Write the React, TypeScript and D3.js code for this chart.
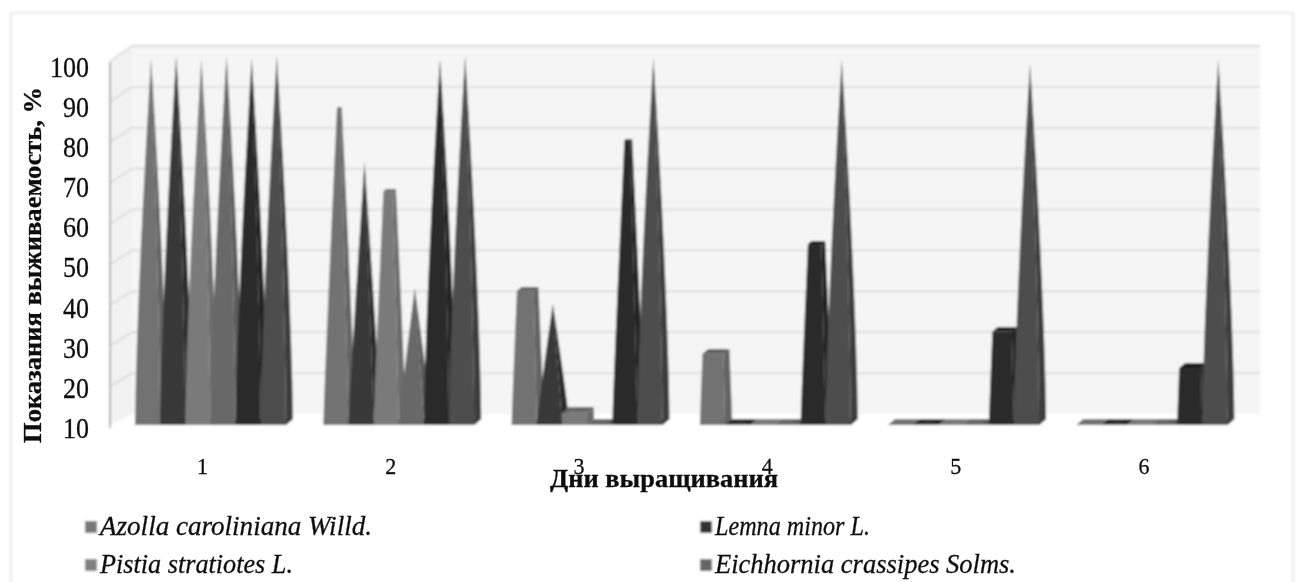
import React from "react";
import * as d3 from "d3";

const days = ["1", "2", "3", "4", "5", "6"];
const yTicks = [10, 20, 30, 40, 50, 60, 70, 80, 90, 100];

// six bars per day, the legend of the source only names four of them
const azolla = [100, 88, 43, 27.5, 10, 10];
const lemna = [100, 74, 39, 10.5, 10.5, 10.5];
const pistia = [100, 67.5, 13, 10, 10, 10];
const eichhornia = [100, 43, 10.5, 10.5, 10.5, 10.5];
const lemna2 = [100, 99.5, 80, 54.5, 33, 24];
const eichhornia2 = [100, 100, 99.5, 99, 98, 99];

const seriesValues = [azolla, lemna, pistia, eichhornia, lemna2, eichhornia2];
const seriesIds = ["s0", "s1", "s2", "s3", "s4", "s5"];
const legendNames = [
  "Azolla caroliniana Willd.",
  "Lemna minor L.",
  "Pistia stratiotes L.",
  "Eichhornia crassipes Solms.",
];
const legendWidths = [272, 155, 193, 301];

const FRONT = ["#727272", "#383838", "#7a7a7a", "#686868", "#2a2a2a", "#4e4e4e"];
const SIDE = ["#646464", "#2c2c2c", "#6c6c6c", "#5a5a5a", "#222222", "#3c3c3c"];
const TOP = ["#5f5f5f", "#2c2c2c", "#666666", "#585858", "#1e1e1e", "#3a3a3a"];
const LEGEND_COLORS = ["#777777", "#333333", "#808080", "#666666"];
// series that end in a point at their value; the others are cut flat
const POINTED = [false, true, false, true, false, true];

const SERIF = "'Liberation Serif', 'Times New Roman', serif";
const DEPTH_X = 7;
const DEPTH_Y = 6;

type Pt = [number, number];

export default function App() {
  const y = d3.scaleLinear().domain([10, 100]).range([425, 59]);
  const yBack = d3.scaleLinear().domain([10, 100]).range([414, 46]);
  const yLabel = d3.scaleLinear().domain([10, 100]).range([428, 67]);
  const x = d3.scaleBand().domain(days).range([135, 1227.4]).paddingInner(0.1985).paddingOuter(0);
  const xBar = d3.scaleBand().domain(seriesIds).range([0, x.bandwidth()]);
  const poly = d3.line();
  const path = (pts: Pt[]) => poly(pts) + "Z";

  const bars = days.flatMap((day, di) =>
    seriesIds.map((id, si) => {
      const value = seriesValues[si][di];
      const x0 = (x(day) || 0) + (xBar(id) || 0);
      const x1 = x0 + xBar.bandwidth();
      const base = y(10);
      const apexX = (x0 + x1 + DEPTH_X) / 2;
      const pointed = POINTED[si];
      const apexY = pointed ? y(value) - DEPTH_Y / 2 : y(100);
      const t = pointed ? 1 : (value - 10) / 90;
      // the sides of the tall spikes bulge a little in the source picture
      const power = value >= 95 ? 1.4 : 1.1;
      const steps = d3.range(0, 11).map((i) => (i / 10) * t);
      const edge = (px: number, py: number, s: number): Pt => [
        px + (apexX - px) * Math.pow(s, power),
        py + (apexY - py) * s,
      ];
      const side = (px: number, py: number) => steps.map((s) => edge(px, py, s));

      const leftFront = side(x0, base);
      const rightFront = side(x1, base);
      const rightBack = side(x1 + DEPTH_X, base - DEPTH_Y);
      const leftBack = side(x0 + DEPTH_X, base - DEPTH_Y);
      const last = steps.length - 1;
      const low = value < 12;
      return (
        <g key={`${day}-${id}`}>
          <path
            d={path([leftFront[0], rightFront[0], rightBack[0], leftBack[0]])}
            fill={low ? (si === 1 ? "#222222" : FRONT[si]) : SIDE[si]}
          />
          <path d={path([...rightFront, ...[...rightBack].reverse()])} fill={SIDE[si]} />
          {!pointed && (
            <path
              d={path([leftFront[last], rightFront[last], rightBack[last], leftBack[last]])}
              fill={low ? FRONT[si] : TOP[si]}
            />
          )}
          <path d={path([...leftFront, ...[...rightFront].reverse()])} fill={FRONT[si]} />
        </g>
      );
    }),
  );

  return (
    <svg
      width={1304}
      height={582}
      style={{ position: "fixed", left: 0, top: 0, background: "#ffffff" }}
      fontFamily={SERIF}
    >
      <defs>
        <filter id="soft" x="-2%" y="-2%" width="104%" height="104%">
          <feGaussianBlur stdDeviation="0.8" />
        </filter>
        <filter id="softText" x="-2%" y="-2%" width="104%" height="104%">
          <feGaussianBlur stdDeviation="0.7" />
        </filter>
      </defs>
      <g filter="url(#soft)">
        <rect x={11} y={13} width={1282} height={600} fill="#ffffff" stroke="#e4e4e4" strokeWidth={1.5} />

        {/* walls */}
        <path d={path([[110, y(100) + 2], [132, yBack(100)], [132, yBack(10)], [110, y(10)]])} fill="#f2f2f2" />
        <rect x={132} y={yBack(100)} width={1128} height={yBack(10) - yBack(100)} fill="#f5f5f5" />
        {yTicks.map((t) => (
          <g key={t} stroke="#dcdcdc" strokeWidth={1.8} fill="none">
            {t > 10 && <line x1={132} x2={1260} y1={yBack(t)} y2={yBack(t)} />}
            {t > 10 && <line x1={110} x2={132} y1={y(t) + 2} y2={yBack(t)} />}
          </g>
        ))}
        <line x1={110} x2={110} y1={y(100) + 3} y2={y(10) + 3} stroke="#999999" strokeWidth={1.5} />

        {bars}

        {/* legend markers */}
        {legendNames.map((name, i) => (
          <rect
            key={name}
            x={i % 2 === 0 ? 85 : 700}
            y={(i < 2 ? 527 : 565) - 6}
            width={12}
            height={12}
            fill={LEGEND_COLORS[i]}
          />
        ))}
      </g>

      <g filter="url(#softText)" fill="#111111" stroke="#111111" strokeWidth={0.3}>
        {/* y axis */}
        {yTicks.map((t) => (
          <text
            key={t}
            x={89}
            y={yLabel(t)}
            dy="0.34em"
            textAnchor="end"
            fontSize={29}
            textLength={t === 100 ? 39 : 26}
            lengthAdjust="spacingAndGlyphs"
          >
            {t}
          </text>
        ))}
        <text
          transform="translate(41,265) rotate(-90)"
          textAnchor="middle"
          fontSize={26}
          fontWeight="bold"
          textLength={356}
          lengthAdjust="spacingAndGlyphs"
        >
          Показания выживаемость, %
        </text>

        {/* x axis */}
        {days.map((d) => (
          <text
            key={d}
            x={(x(d) || 0) + x.bandwidth() / 2 - 8}
            y={474}
            textAnchor="middle"
            fontSize={24}
            textLength={11}
            lengthAdjust="spacingAndGlyphs"
          >
            {d}
          </text>
        ))}
        <text
          x={664}
          y={487}
          textAnchor="middle"
          fontSize={25}
          fontWeight="bold"
          textLength={228}
          lengthAdjust="spacingAndGlyphs"
        >
          Дни выращивания
        </text>

        {/* legend */}
        {legendNames.map((name, i) => (
          <text
            key={name}
            x={(i % 2 === 0 ? 85 : 700) + 15}
            y={(i < 2 ? 527 : 565) + 8}
            fontSize={27}
            fontStyle="italic"
            textLength={legendWidths[i]}
            lengthAdjust="spacingAndGlyphs"
          >
            {name}
          </text>
        ))}
      </g>
    </svg>
  );
}
